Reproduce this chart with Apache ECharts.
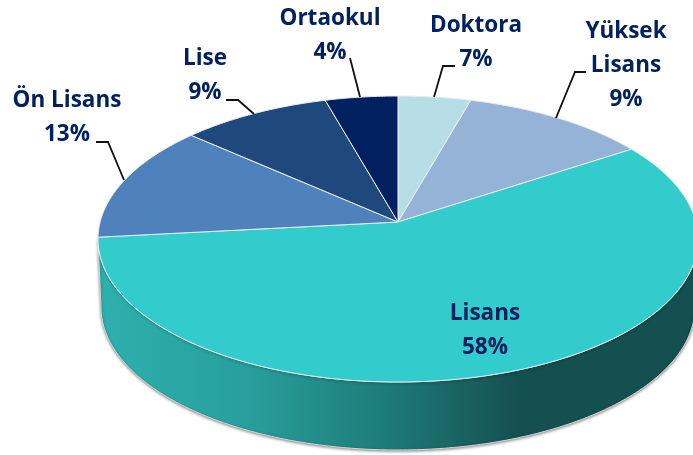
<!DOCTYPE html>
<html>
<head>
<meta charset="utf-8">
<style>
  html, body { margin: 0; padding: 0; background: #fff; }
  #chart { width: 693px; height: 455px; }
</style>
<script src="https://cdn.jsdelivr.net/npm/echarts@6/dist/echarts.min.js"></script>
</head>
<body>
<div id="chart"></div>
<script>
// clockwise from 12 o'clock, same order as the picture
var categories = ["Doktora", "Yüksek\nLisans", "Lisans", "Ön Lisans", "Lise", "Ortaokul"];
var percentLabels = [7, 9, 58, 13, 9, 4];
// the drawn slices do not follow the printed percents, so shares are read off the slices
var sliceShares = [3.9, 10.3, 61, 12.7, 8.2, 3.9];
var sliceColors = ["#B7DDE6", "#95B3D7", "#31CCCB", "#4F81BD", "#1F497D", "#002060"];

// label centre and leader line for each slice
var labelPos = [[476, 43], [626, 66], [485, 331], [67, 118], [205, 76], [330, 36]];
var leaders = [
  [[455, 66], [443, 66], [434, 97]],
  [[586, 72], [575, 72], [556, 118]],
  null,
  [[96, 142], [108, 142], [124, 180]],
  [[226, 100], [238, 100], [254, 114]],
  [[350, 58], [360, 97]]
];

var CX = 398, CY = 239, RX = 300, RY = 143;
var APEX = [398, 222];
var DEPTH = 68;
var TEXT_COLOR = "#002060";

var total = sliceShares.reduce(function (a, b) { return a + b; }, 0);
var acc = 0;
var sliceData = sliceShares.map(function (v, i) {
  var row = [acc, v, i];
  acc += v;
  return row;
});

function rimPoint(t) {
  return [CX + RX * Math.sin(t), CY - RY * Math.cos(t)];
}

function renderSlice(params, api) {
  var start = api.value(0) / total * Math.PI * 2;
  var end = (api.value(0) + api.value(1)) / total * Math.PI * 2;
  var i = api.value(2);
  var pts = [APEX];
  var n = Math.ceil((end - start) / 0.01);
  for (var k = 0; k <= n; k++) {
    pts.push(rimPoint(start + (end - start) * k / n));
  }
  var children = [{
    type: "polygon",
    shape: { points: pts },
    style: { fill: sliceColors[i], stroke: "#E8EEF4", lineWidth: 1 }
  }];
  if (leaders[i]) {
    children.push({
      type: "polyline",
      shape: { points: leaders[i] },
      style: { fill: null, stroke: "#111", lineWidth: 1.8 }
    });
  }
  children.push({
    type: "text",
    x: labelPos[i][0],
    y: labelPos[i][1],
    style: {
      text: categories[i] + "\n" + percentLabels[i] + "%",
      fill: TEXT_COLOR,
      font: "bold 22.5px 'Open Sans'",
      lineHeight: 34,
      align: "center",
      verticalAlign: "middle"
    }
  });
  return { type: "group", children: children };
}

// side wall, lower half of the rim pushed down by DEPTH
function renderWall() {
  var pts = [];
  var steps = 200;
  var k, t;
  for (k = 0; k <= steps; k++) {
    t = Math.PI / 2 + Math.PI * k / steps;
    pts.push([CX + (RX - 3) * Math.sin(t), CY + DEPTH - RY * Math.cos(t)]);
  }
  for (k = steps; k >= 0; k--) {
    t = Math.PI / 2 + Math.PI * k / steps;
    pts.push(rimPoint(t));
  }
  return {
    type: "polygon",
    shape: { points: pts },
    style: {
      fill: new echarts.graphic.LinearGradient(0, 0, 1, 0, [
        { offset: 0, color: "#2DB0AE" },
        { offset: 0.25, color: "#289F9C" },
        { offset: 0.47, color: "#1E7D7A" },
        { offset: 0.7, color: "#155050" },
        { offset: 1, color: "#155050" }
      ]),
      stroke: "#D8D8D8",
      lineWidth: 1,
      shadowBlur: 3,
      shadowColor: "rgba(0,0,0,0.45)",
      shadowOffsetY: 1
    }
  };
}

var chart = echarts.init(document.getElementById("chart"));
chart.setOption({
  animation: false,
  backgroundColor: "#fff",
  series: [
    {
      type: "custom",
      coordinateSystem: "none",
      silent: true,
      z: 1,
      data: [[0]],
      renderItem: renderWall
    },
    {
      type: "custom",
      coordinateSystem: "none",
      silent: true,
      z: 2,
      data: sliceData,
      renderItem: renderSlice
    }
  ]
});
</script>
</body>
</html>
